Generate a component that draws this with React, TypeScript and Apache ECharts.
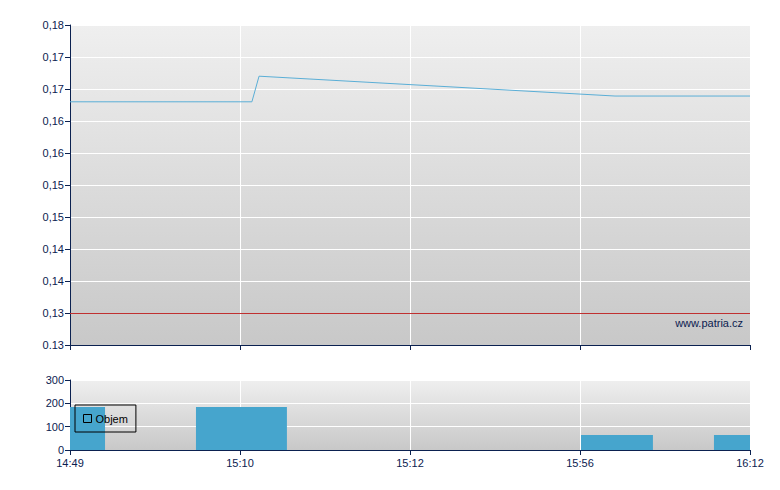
import React, { useEffect, useRef } from "react";
import * as echarts from "echarts";

const timeLabels = ["14:49", "15:10", "15:12", "15:56", "16:12"];
const priceTickLabels = ["0.13", "0,13", "0,14", "0,14", "0,15", "0,15", "0,16", "0,16", "0,17", "0,17", "0,18"];
// price line: [x position on time axis, price]
const pricePoints: [number, number][] = [
  [0, 0.168],
  [1.07, 0.168],
  [1.112, 0.172],
  [3.206, 0.1689],
  [4, 0.1689],
];
const referencePrice = 0.135;
// volume blocks: [start, end, volume]
const volumeBlocks: [number, number, number][] = [
  [0, 0.206, 184],
  [0.741, 1.276, 184],
  [3.006, 3.429, 64],
  [3.788, 4, 64],
];

const NAVY = "#0b2150";
const FONT = "Liberation Sans, Arial, sans-serif";

export default function App() {
  const ref = useRef<HTMLDivElement>(null);
  useEffect(() => {
    if (!ref.current) return;
    const chart = echarts.init(ref.current, undefined, { renderer: "svg" });
    const bg = new echarts.graphic.LinearGradient(0, 0, 0, 1, [
      { offset: 0, color: "#efefef" },
      { offset: 1, color: "#c8c8c8" },
    ]);
    const bg2 = new echarts.graphic.LinearGradient(0, 0, 0, 1, [
      { offset: 0, color: "#efefef" },
      { offset: 1, color: "#c8c8c8" },
    ]);
    const axisLabelStyle = { color: NAVY, fontSize: 11, fontFamily: FONT };
    chart.setOption({
      animation: false,
      textStyle: { fontFamily: FONT },
      grid: [
        { left: 62, top: 17, width: 680, height: 320, show: true, backgroundColor: bg, borderWidth: 0 },
        { left: 62, top: 372, width: 680, height: 70, show: true, backgroundColor: bg2, borderWidth: 0 },
      ],
      xAxis: [
        {
          type: "value", gridIndex: 0, min: 0, max: 4, interval: 1,
          axisLine: { show: true, lineStyle: { color: NAVY, width: 1 } },
          axisTick: { show: true, length: 5, lineStyle: { color: NAVY } },
          axisLabel: { show: false },
          splitLine: { show: true, lineStyle: { color: "#ffffff", width: 1 } },
        },
        {
          type: "value", gridIndex: 1, min: 0, max: 4, interval: 1,
          axisLine: { show: true, lineStyle: { color: NAVY, width: 1 } },
          axisTick: { show: true, length: 5, lineStyle: { color: NAVY } },
          axisLabel: { ...axisLabelStyle, margin: 7, formatter: (v: number) => timeLabels[Math.round(v)] ?? "" },
          splitLine: { show: true, lineStyle: { color: "#ffffff", width: 1 } },
        },
      ],
      yAxis: [
        {
          type: "value", gridIndex: 0, min: 0.13, max: 0.18, interval: 0.005,
          axisLine: { show: true, lineStyle: { color: NAVY, width: 1 } },
          axisTick: { show: true, length: 5, lineStyle: { color: NAVY } },
          axisLabel: {
            ...axisLabelStyle, margin: 6,
            formatter: (v: number) => priceTickLabels[Math.round((v - 0.13) / 0.005)] ?? "",
          },
          splitLine: { show: true, lineStyle: { color: "#ffffff", width: 1 } },
        },
        {
          type: "value", gridIndex: 1, min: 0, max: 300, interval: 100,
          axisLine: { show: true, lineStyle: { color: NAVY, width: 1 } },
          axisTick: { show: true, length: 5, lineStyle: { color: NAVY } },
          axisLabel: { ...axisLabelStyle, margin: 6 },
          splitLine: { show: true, lineStyle: { color: "#ffffff", width: 1 } },
        },
      ],
      legend: {
        left: 67, top: 397,
        data: ["Objem"],
        orient: "horizontal",
        padding: [8, 8, 8, 8],
        borderColor: "#000", borderWidth: 1, backgroundColor: "transparent",
        itemWidth: 8, itemHeight: 8, itemGap: 5,
        icon: "rect",
        itemStyle: { color: "transparent", borderColor: "#000", borderWidth: 1 },
        textStyle: { color: "#000", fontSize: 11, fontFamily: FONT, padding: [0, 0, 0, -1] },
        selectedMode: false,
      },
      graphic: [
        {
          type: "text", right: 29, top: 309,
          style: { text: "www.patria.cz", fill: NAVY, fontSize: 11, fontFamily: FONT },
        },
      ],
      series: [
        {
          name: "Cena", type: "line", xAxisIndex: 0, yAxisIndex: 0,
          data: pricePoints, showSymbol: false, symbol: "none",
          lineStyle: { color: "#5aaed6", width: 1 },
          markLine: {
            silent: true, symbol: "none", label: { show: false }, precision: 5,
            lineStyle: { color: "#c03030", width: 1, type: "solid" },
            data: [{ yAxis: referencePrice }],
          },
        },
        {
          name: "Objem", type: "custom", xAxisIndex: 1, yAxisIndex: 1,
          data: volumeBlocks,
          itemStyle: { color: "#46a5cd" },
          encode: { x: [0, 1], y: 2 },
          renderItem: (params: any, api: any) => {
            const p0 = api.coord([api.value(0), api.value(2)]);
            const p1 = api.coord([api.value(1), 0]);
            return {
              type: "rect",
              shape: { x: p0[0], y: p0[1], width: p1[0] - p0[0], height: p1[1] - p0[1] },
              style: { fill: "#46a5cd" },
            };
          },
        },
      ],
    });
    return () => chart.dispose();
  }, []);
  return <div ref={ref} style={{ width: 764, height: 474 }} />;
}
